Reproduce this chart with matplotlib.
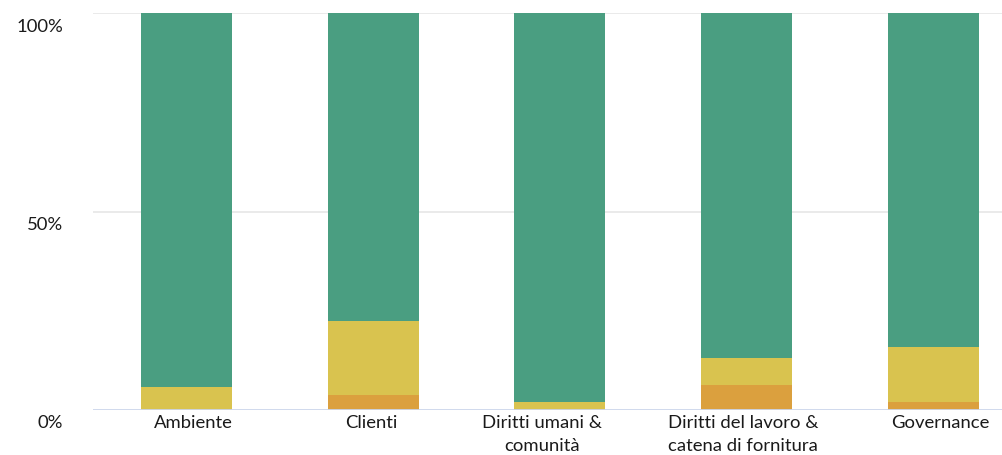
import matplotlib
matplotlib.use("Agg")
import matplotlib.pyplot as plt
from matplotlib.transforms import ScaledTranslation
import numpy as np

categories = ["Ambiente", "Clienti", "Diritti umani &\ncomunità",
              "Diritti del lavoro &\ncatena di fornitura", "Governance"]
orange_vals = [0.0, 3.7, 0.0, 6.2, 2.1]
yellow_vals = [5.7, 18.6, 2.1, 7.0, 13.7]
green_vals = [100 - o - y for o, y in zip(orange_vals, yellow_vals)]

c_orange = "#dba03e"
c_yellow = "#d9c34f"
c_green = "#4a9e81"

plt.rcParams["font.family"] = ["Lato", "DejaVu Sans"]

W, H = 1003, 456
fig = plt.figure(figsize=(W / 100, H / 100), dpi=100)
ax = fig.add_axes([93 / W, 1 - 411 / H, 1 - 93 / W, 397 / H])

x = np.arange(len(categories))
bw = 91 / 186.75
ax.bar(x, orange_vals, bw, color=c_orange, zorder=3)
ax.bar(x, yellow_vals, bw, bottom=orange_vals, color=c_yellow, zorder=3)
ax.bar(x, green_vals, bw, bottom=np.add(orange_vals, yellow_vals), color=c_green, zorder=3)

ax.set_xlim(-0.5, -0.5 + 910 / 186.75)
ax.set_ylim(0, 100)
ax.set_yticks([0, 50, 100])
ax.set_yticklabels(["0%", "50%", "100%"])
ax.set_xticks(x)
ax.set_xticklabels(categories, linespacing=1.55)
ax.tick_params(axis="both", length=0, labelsize=13.3, colors="#1a1a1a")
ax.tick_params(axis="y", pad=21.5)
ax.tick_params(axis="x", pad=3)
for lab in ax.get_yticklabels():
    lab.set_transform(lab.get_transform() + ScaledTranslation(0, -11 / 100, fig.dpi_scale_trans))
# label nudges (px) as seen in the original
shifts = [7.5, -1.5, -18, -3.5, 7]
for lab, dx in zip(ax.get_xticklabels(), shifts):
    lab.set_transform(lab.get_transform() + ScaledTranslation(dx / 100, 0, fig.dpi_scale_trans))

for v in [50, 100]:
    ax.axhline(v, color="#e6e6e6", lw=1.2, zorder=1)
ax.axhline(0, color="#ccd6eb", lw=2, zorder=4)
for s in ax.spines.values():
    s.set_visible(False)

fig.savefig("out.png", dpi=100)
